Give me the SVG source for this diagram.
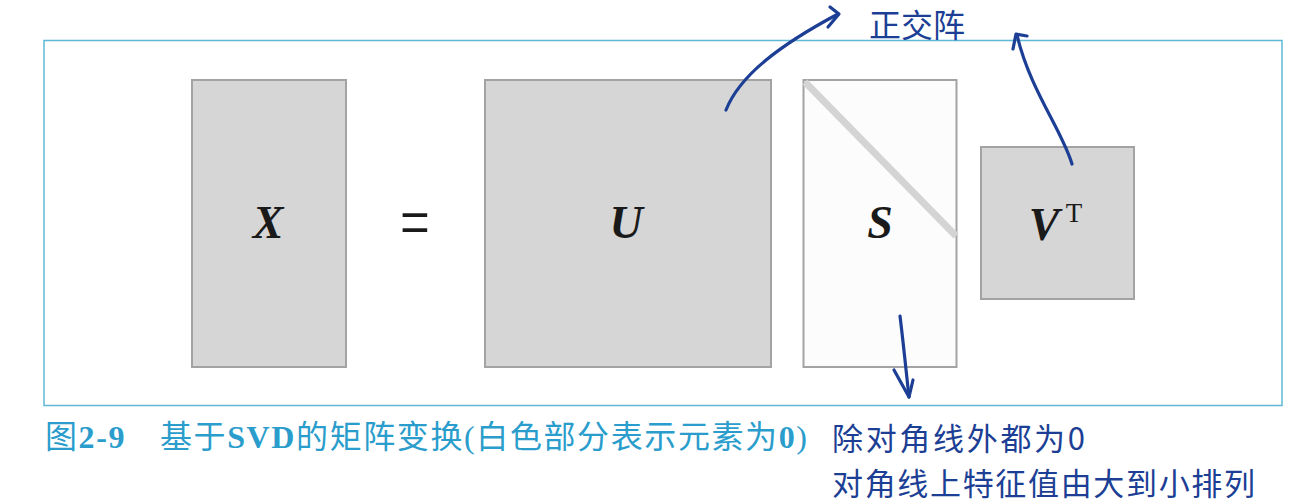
<svg xmlns="http://www.w3.org/2000/svg" width="1294" height="502" viewBox="0 0 1294 502">
<style>
.mat{fill:#d6d6d6;stroke:#a3a3a3;stroke-width:2}
.sym{font-family:"Liberation Serif","DejaVu Serif",serif;font-weight:bold;font-style:italic;font-size:46px;fill:#1a1a1a;text-anchor:middle}
.cap{font-family:"Noto Sans CJK SC",sans-serif;font-size:32px;font-weight:400;fill:#2a9dcc;letter-spacing:1.6px}
.capl{font-family:"Liberation Serif","DejaVu Serif",serif;font-weight:bold}
.capp{font-family:"Liberation Serif","DejaVu Serif",serif;font-weight:normal}
.hand{font-family:"Noto Sans CJK SC",sans-serif;fill:#1c3f95}
.ink{fill:none;stroke:#1c3f95;stroke-width:3.2;stroke-linecap:round;stroke-linejoin:round}
</style>
<rect width="1294" height="502" fill="#ffffff"/>
<rect id="frame" x="44" y="40.5" width="1238" height="365" fill="#ffffff" stroke="#5fb9d6" stroke-width="1.5"/>
<g id="node-X">
<rect class="mat" x="192" y="80" width="154" height="287"/>
<text class="sym" x="268" y="238">X</text>
</g>
<g id="node-eq">
<text transform="translate(415,247) scale(1.2,1.7)" x="0" y="0" font-family="Liberation Serif,serif" font-size="44" fill="#1a1a1a" text-anchor="middle">=</text>
</g>
<g id="node-U">
<rect class="mat" x="485" y="80" width="286" height="287"/>
<text class="sym" x="626" y="238">U</text>
</g>
<g id="node-S">
<rect x="803.5" y="80" width="153" height="287" fill="#fdfcfc" stroke="#a3a3a3" stroke-width="2"/>
<line x1="805" y1="82" x2="956" y2="236" stroke="#d4d4d4" stroke-width="7"/>
<text class="sym" x="880" y="238">S</text>
</g>
<g id="node-V">
<rect class="mat" x="981" y="147" width="153" height="152"/>
<text class="sym" x="1044" y="240">V</text>
<text x="1074" y="222" font-family="Liberation Serif,serif" font-size="27" fill="#1a1a1a" text-anchor="middle">T</text>
</g>
<g id="caption">
<text class="cap" x="45" y="448">图<tspan class="capl">2-9</tspan>　<tspan x="160">基于</tspan><tspan class="capl">SVD</tspan>的矩阵变换<tspan class="capp">(</tspan>白色部分表示元素为<tspan class="capl">0</tspan><tspan class="capp">)</tspan></text>
</g>
<g id="connectors">
<path class="ink" d="M726,110 C740,75 780,45 838,14"/>
<path class="ink" d="M830,7 L839,14 L828,27"/>
<path class="ink" d="M1072,164 C1062,130 1030,90 1017,35"/>
<path class="ink" d="M1013,49 L1016,34 L1027,36"/>
<path class="ink" d="M900,316 C903,340 906,370 909,397"/>
<path class="ink" d="M894,370 L909,397 L913,380"/>
</g>
<g id="notes">
<text class="hand" x="869" y="37" font-size="32">正交阵</text>
<text class="hand" x="832" y="450" font-size="31" textLength="253">除对角线外都为0</text>
<text class="hand" x="832" y="495" font-size="31" textLength="423">对角线上特征值由大到小排列</text>
</g>
</svg>
